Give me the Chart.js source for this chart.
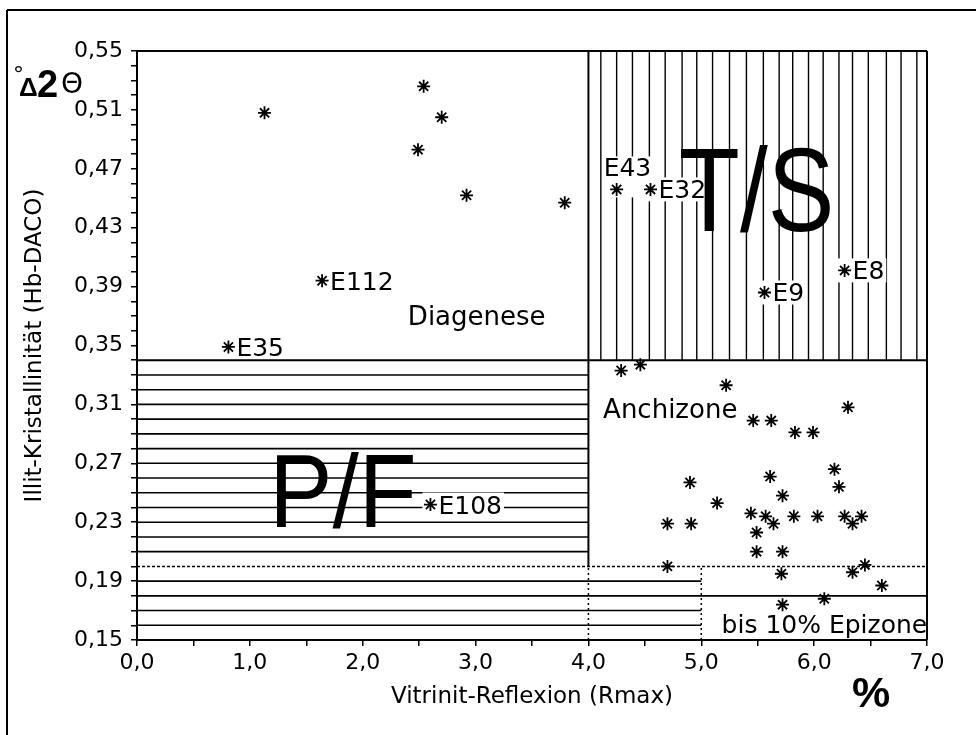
<!DOCTYPE html>
<html>
<head>
<meta charset="utf-8">
<script src="https://cdn.jsdelivr.net/npm/chart.js@4.4.1/dist/chart.umd.min.js"></script>
<style>
    html, body { margin: 0; padding: 0; background: #fff; }
</style>
</head>
<body>
<canvas id="chart-illit" width="976" height="735"></canvas>
<script>
'use strict';

// Proben ohne Beschriftung (Vitrinit-Reflexion %, Illit-Kristallinität °Δ2Θ)
const probenX = [1.13, 2.54, 2.70, 2.49, 2.92, 3.79,
    4.29, 4.46, 5.22, 5.46, 5.62, 5.83, 5.99, 6.30,
    4.90, 5.61, 6.18, 6.22, 5.14, 5.72, 4.70, 4.91,
    5.44, 5.57, 5.64, 5.49, 5.82, 6.03, 6.27, 6.42, 6.34,
    5.49, 5.72, 4.70, 5.71, 6.34, 6.45, 6.60, 5.72, 6.09];
const probenY = [0.508, 0.526, 0.505, 0.483, 0.452, 0.447,
    0.333, 0.337, 0.323, 0.299, 0.299, 0.291, 0.291, 0.308,
    0.257, 0.261, 0.266, 0.254, 0.243, 0.248, 0.229, 0.229,
    0.236, 0.234, 0.229, 0.223, 0.234, 0.234, 0.234, 0.234, 0.229,
    0.210, 0.210, 0.200, 0.195, 0.196, 0.201, 0.187, 0.174, 0.178];

// beschriftete Proben
const namen = ['E43', 'E32', 'E112', 'E35', 'E9', 'E8', 'E108'];
const namenX = [4.25, 4.55, 1.64, 0.81, 5.56, 6.27, 2.60];
const namenY = [0.456, 0.456, 0.394, 0.349, 0.386, 0.401, 0.242];

// Schraffur der Felder
const pfStufen = [0.21, 0.22, 0.23, 0.24, 0.25, 0.26, 0.27, 0.28, 0.29, 0.30, 0.31, 0.32, 0.33];
const pfUnten = [0.16, 0.17, 0.19];
const tsSpalten = [4.11, 4.25, 4.39, 4.54, 4.68, 4.83, 4.96, 5.10, 5.25, 5.40, 5.55,
    5.69, 5.81, 5.95, 6.08, 6.22, 6.34, 6.48, 6.64, 6.77, 6.91];

const SCHRIFT = "'DejaVu Sans', sans-serif";
const ARIAL = "'Liberation Sans', Arial, sans-serif";

const fmtKomma = (v, n) => v.toFixed(n).replace('.', ',');

const linie = (ctx, x1, y1, x2, y2, breite, strich) => {
    ctx.save();
    ctx.beginPath();
    ctx.lineWidth = breite;
    ctx.strokeStyle = '#000';
    ctx.setLineDash(strich || []);
    ctx.moveTo(x1, y1);
    ctx.lineTo(x2, y2);
    ctx.stroke();
    ctx.restore();
};

const zonenPlugin = {
    id: 'zonen',
    beforeDatasetsDraw(chart) {
        const { ctx, scales: { x, y } } = chart;
        const px = (v) => x.getPixelForValue(v);
        const py = (v) => y.getPixelForValue(v);

        // P/F horizontale Schraffur
        pfStufen.forEach((s) => linie(ctx, px(0), py(s), px(4), py(s), 1.6));
        pfUnten.forEach((s) => linie(ctx, px(0), py(s), px(5), py(s), 1.6));
        linie(ctx, px(0), py(0.18), px(7), py(0.18), 1.8);

        // T/S vertikale Schraffur
        tsSpalten.forEach((s) => linie(ctx, px(s), py(0.34), px(s), py(0.55), 1.4));

        // Grenzen
        linie(ctx, px(0), py(0.34), px(7), py(0.34), 2);
        linie(ctx, px(4), py(0.20), px(4), py(0.55), 2);
        linie(ctx, px(0), py(0.20), px(7), py(0.20), 1.5, [3, 2]);
        linie(ctx, px(4), py(0.15), px(4), py(0.20), 1.5, [2, 3]);
        linie(ctx, px(5), py(0.15), px(5), py(0.20), 1.5, [2, 3]);

        // Beschriftungen der Proben mit weißem Hintergrund
        ctx.save();
        ctx.font = `25px ${SCHRIFT}`;
        ctx.textBaseline = 'alphabetic';
        namen.forEach((n, i) => {
            const cx = px(namenX[i]);
            const cy = py(namenY[i]);
            const w = ctx.measureText(n).width;
            ctx.fillStyle = '#fff';
            if (n === 'E43') {
                ctx.fillRect(cx - 14, cy - 33, w + 2, 41);
                ctx.fillStyle = '#000';
                ctx.fillText(n, cx - 13, cy - 13);
            } else {
                ctx.fillRect(cx - 8, cy - 12, w + 18, 24);
                ctx.fillStyle = '#000';
                ctx.fillText(n, cx + 8, cy + 9);
            }
        });
        ctx.restore();
    },
    afterDraw(chart) {
        const { ctx, chartArea: a, scales: { x, y } } = chart;
        const px = (v) => x.getPixelForValue(v);
        const py = (v) => y.getPixelForValue(v);

        // Rahmen des Diagramms
        linie(ctx, a.left, a.top, a.right, a.top, 2);
        linie(ctx, a.right, a.top, a.right, a.bottom, 2);
        // äußerer Rahmen
        linie(ctx, 7, 10, 976, 10, 2);
        linie(ctx, 7, 10, 7, 735, 2);

        ctx.save();
        ctx.fillStyle = '#000';
        ctx.textBaseline = 'alphabetic';

        ctx.font = `26px ${SCHRIFT}`;
        ctx.fillText('Diagenese', px(2.40), py(0.364));
        ctx.fillText('Anchizone', px(4.13), py(0.301));
        ctx.font = `25px ${SCHRIFT}`;
        ctx.fillText('bis 10% Epizone', px(5.18), py(0.155));

        // große Feldbezeichnungen
        const gross = (txt, vx, vy, size, sx) => {
            ctx.save();
            ctx.font = `${size}px ${ARIAL}`;
            ctx.textAlign = 'center';
            ctx.translate(px(vx), py(vy));
            ctx.scale(sx, 1);
            ctx.fillText(txt, 0, 0);
            ctx.restore();
        };
        gross('T/S', 5.49, 0.428, 119, 0.84);
        gross('P/F', 1.825, 0.227, 103, 0.92);

        // Einheiten
        ctx.font = `22px ${SCHRIFT}`;
        ctx.fillText('°', 13, 82);
        ctx.font = `bold 26px ${ARIAL}`;
        ctx.fillText('Δ', 19, 96);
        ctx.font = `bold 38px ${ARIAL}`;
        ctx.fillText('2', 37, 97);
        ctx.font = `28px ${SCHRIFT}`;
        ctx.fillText('Θ', 61, 93);

        ctx.font = `bold 43px ${ARIAL}`;
        ctx.textAlign = 'center';
        ctx.fillText('%', 871, 707);
        ctx.restore();
    },
};

const probenPunkte = probenX.map((v, i) => ({ x: v, y: probenY[i] }));
const namenPunkte = namenX.map((v, i) => ({ x: v, y: namenY[i] }));

const punktStil = {
    showLine: false,
    pointStyle: 'star',
    pointRadius: 6.5,
    pointBorderWidth: 1.8,
    borderColor: '#000',
    backgroundColor: '#000',
};

const tickFont = { family: SCHRIFT, size: 22 };

new Chart(document.getElementById('chart-illit'), {
    type: 'scatter',
    data: {
        datasets: [
            { label: 'Proben', data: probenPunkte, ...punktStil },
            { label: 'Benannt', data: namenPunkte, ...punktStil },
        ],
    },
    options: {
        responsive: false,
        animation: false,
        devicePixelRatio: 1,
        layout: { padding: { top: 51, right: 49, bottom: 0, left: 0 } },
        plugins: {
            legend: { display: false },
            tooltip: { enabled: false },
        },
        scales: {
            x: {
                type: 'linear',
                min: 0,
                max: 7,
                afterFit: (s) => { s.height = 95; },
                ticks: {
                    stepSize: 0.5,
                    autoSkip: false,
                    maxRotation: 0,
                    padding: 4,
                    color: '#000',
                    font: tickFont,
                    callback: (v) => (Math.abs(v - Math.round(v)) < 1e-6 ? fmtKomma(v, 1) : ''),
                },
                grid: { drawOnChartArea: false, color: '#000', lineWidth: 1.5, tickLength: 6 },
                border: { color: '#000', width: 2 },
                title: {
                    display: true,
                    text: 'Vitrinit-Reflexion (Rmax)',
                    color: '#000',
                    font: { family: SCHRIFT, size: 23 },
                    padding: { top: 0, bottom: 24 },
                },
            },
            y: {
                type: 'linear',
                min: 0.15,
                max: 0.55,
                afterFit: (s) => { s.width = 137; },
                ticks: {
                    stepSize: 0.01,
                    autoSkip: false,
                    padding: 8,
                    color: '#000',
                    font: tickFont,
                    callback: (v) => {
                        const n = Math.round(v * 100);
                        return (n - 15) % 4 === 0 ? fmtKomma(n / 100, 2) : '';
                    },
                },
                grid: { drawOnChartArea: false, color: '#000', lineWidth: 1.5, tickLength: 6 },
                border: { color: '#000', width: 2 },
                title: {
                    display: true,
                    text: 'Illit-Kristallinität (Hb-DACO)',
                    color: '#000',
                    font: { family: SCHRIFT, size: 23 },
                    padding: { top: 21, bottom: 0 },
                },
            },
        },
    },
    plugins: [zonenPlugin],
});
</script>
</body>
</html>
